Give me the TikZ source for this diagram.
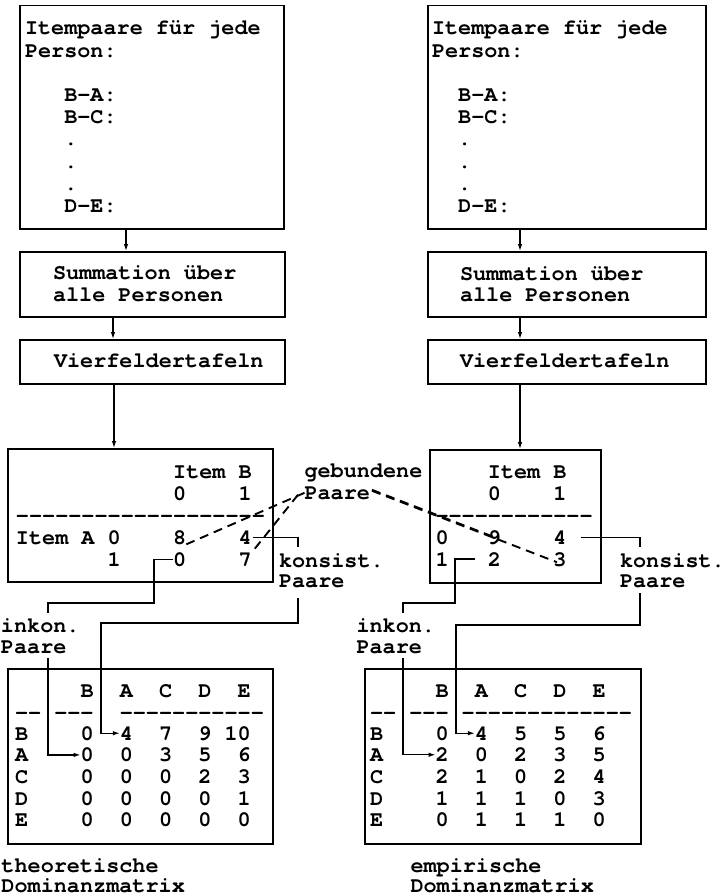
\documentclass[tikz,border=0pt]{standalone}
\usepackage{fontspec}
\newfontfamily\cour{TeX Gyre Cursor}
\usetikzlibrary{arrows.meta}
% one character cell of the typewriter font
\def\cw{13.1}
% a single hyphen in its own box (keeps runs of hyphens apart)
\newcommand\hy{\hbox{-}}
\begin{document}
\begin{tikzpicture}[x=1pt,y=-1pt,
  box/.style={draw,line width=1.5pt,anchor=north west,inner sep=0pt},
  txt/.style={font=\cour\bfseries\fontsize{21.83pt}{22pt}\selectfont,anchor=base west,inner sep=0pt,outer sep=0pt},
  num/.style={txt,anchor=base east},
  conn/.style={line width=1.2pt},
  arr/.style={conn,-{Latex[length=7pt,width=4.6pt]}},
  geb/.style={line width=1.9pt,dash pattern=on 9pt off 6pt}]
\useasboundingbox (0,0) rectangle (726,896);

% ---------- boxes ----------
\node[box,minimum width=264pt,minimum height=223pt] (b1L) at (19,5) {};
\node[box,minimum width=265pt,minimum height=65pt]  (b2L) at (19,251) {};
\node[box,minimum width=265pt,minimum height=44pt]  (b3L) at (19,339) {};
\node[box,minimum width=265pt,minimum height=133pt] (tabL) at (7,448) {};
\node[box,minimum width=265pt,minimum height=175pt] (matL) at (7,668) {};

\node[box,minimum width=278pt,minimum height=223pt] (b1R) at (427,5) {};
\node[box,minimum width=278pt,minimum height=65pt]  (b2R) at (427,251) {};
\node[box,minimum width=278pt,minimum height=44pt]  (b3R) at (427,339) {};
\node[box,minimum width=171pt,minimum height=133pt] (tabR) at (429,449) {};
\node[box,minimum width=276pt,minimum height=175pt] (matR) at (364,668) {};

% ---------- vertical flow arrows ----------
\coordinate (axL1) at (126,0);
\coordinate (axL2) at (113,0);
\coordinate (axL3) at (114,0);
\coordinate (axR) at (520,0);
\draw[arr] (b1L.south -| axL1) -- (b2L.north -| axL1);
\draw[arr] (b2L.south -| axL2) -- (b3L.north -| axL2);
\draw[arr] (b3L.south -| axL3) -- (tabL.north -| axL3);
\draw[arr] (b1R.south -| axR) -- (b2R.north -| axR);
\draw[arr] (b2R.south -| axR) -- (b3R.north -| axR);
\draw[arr] (b3R.south -| axR) -- (tabR.north -| axR);

% ---------- item pairs ----------
\node[txt] (l1a) at (25,35) {Itempaare für jede};
\node[txt] (l1b) at (25,57.2) {Person:};
\node[txt] (l1c) at ({25+3*\cw},101.6) {B-A:};
\node[txt] (l1d) at ({25+3*\cw},123.8) {B-C:};
\node[txt] (l1e) at ({25+3*\cw},146) {.};
\node[txt] (l1f) at ({25+3*\cw},168.2) {.};
\node[txt] (l1g) at ({25+3*\cw},190.4) {.};
\node[txt] (l1h) at ({25+3*\cw},212.6) {D-E:};

\node[txt] (r1a) at (432,35) {Itempaare für jede};
\node[txt] (r1b) at (432,57.2) {Person:};
\node[txt] (r1c) at ({432+2*\cw},101.6) {B-A:};
\node[txt] (r1d) at ({432+2*\cw},123.8) {B-C:};
\node[txt] (r1e) at ({432+2*\cw},146) {.};
\node[txt] (r1f) at ({432+2*\cw},168.2) {.};
\node[txt] (r1g) at ({432+2*\cw},190.4) {.};
\node[txt] (r1h) at ({432+2*\cw},212.6) {D-E:};

\node[txt] (l2a) at (53,279) {Summation über};
\node[txt] (l2b) at (53,301) {alle Personen};
\node[txt] (r2a) at (460,280) {Summation über};
\node[txt] (r2b) at (460,301) {alle Personen};

\node[txt] (l3) at (54,367) {Vierfeldertafeln};
\node[txt] (r3) at (460,367) {Vierfeldertafeln};

% ---------- fourfold table, theoretical ----------
\node[txt] (tLhd) at ({16+12*\cw},478) {Item B};
\node[txt] (tLc0) at ({16+12*\cw},500) {0};
\node[txt] (tLc1) at ({16+17*\cw},500) {1};
\node[txt] (tLrule) at (16,522) {\hy\hy\hy\hy\hy\hy\hy\hy\hy\hy\hy\hy\hy\hy\hy\hy\hy\hy\hy};
\node[txt] (tLrA) at (16,544) {Item A};
\node[txt] (tLr0) at ({16+7*\cw},544) {0};
\node[txt] (tL8) at ({16+12*\cw},544) {8};
\node[txt] (tL4) at ({16+17*\cw},544) {4};
\node[txt] (tLr1) at ({16+7*\cw},566) {1};
\node[txt] (tL0) at ({16+12*\cw},566) {0};
\node[txt] (tL7) at ({16+17*\cw},566) {7};

% ---------- fourfold table, empirical ----------
\node[txt] (tRhd) at ({435.5+4*\cw},478) {Item B};
\node[txt] (tRc0) at ({435.5+4*\cw},500) {0};
\node[txt] (tRc1) at ({435.5+9*\cw},500) {1};
\node[txt] (tRrule) at (435.5,522) {\hy\hy\hy\hy\hy\hy\hy\hy\hy\hy\hy\hy};
\node[txt] (tRr0) at (435.5,544) {0};
\node[txt] (tR9) at ({435.5+4*\cw},544) {9};
\node[txt] (tR4) at ({435.5+9*\cw},544) {4};
\node[txt] (tRr1) at (435.5,566) {1};
\node[txt] (tR2) at ({435.5+4*\cw},566) {2};
\node[txt] (tR3) at ({435.5+9*\cw},566) {3};

% ---------- labels ----------
\node[txt] (geb1) at (304.5,477.5) {gebundene};
\node[txt] (geb2) at (304.5,499) {Paare};
\node[txt] (kL1) at (279,567) {konsist.};
\node[txt] (kL2) at (279,587) {Paare};
\node[txt] (kR1) at (620,567) {konsist.};
\node[txt] (kR2) at (620,587) {Paare};
\node[txt] (iL1) at (1,632) {inkon.};
\node[txt] (iL2) at (1,653) {Paare};
\node[txt] (iR1) at (356.5,632) {inkon.};
\node[txt] (iR2) at (356.5,653) {Paare};
\node[txt] (capL1) at (1.5,872) {theoretische};
\node[txt] (capL2) at (1.5,892) {Dominanzmatrix};
\node[txt] (capR1) at (410.5,872) {empirische};
\node[txt] (capR2) at (410.5,892) {Dominanzmatrix};

% ---------- dominance matrices ----------
\foreach \col/\c in {B/5,A/8,C/11,D/14,E/17}{
  \node[txt] (mLh\col) at ({15+\c*\cw},697) {\col};
  \node[txt] (mRh\col) at ({370+\c*\cw},697) {\col};
}
\node[txt] (mLd1) at (15,719) {\hy\hy};
\node[txt] (mLd2) at ({15+3*\cw},719) {\hy\hy\hy};
\node[txt] (mLd3) at ({15+8*\cw},719) {\hy\hy\hy\hy\hy\hy\hy\hy\hy\hy\hy};
\node[txt] (mRd1) at (370,719) {\hy\hy};
\node[txt] (mRd2) at ({370+3*\cw},719) {\hy\hy\hy};
\node[txt] (mRd3) at ({370+7*\cw},719) {\hy\hy\hy\hy\hy\hy\hy\hy\hy\hy\hy\hy\hy};

\foreach \r/\yy/\va/\vb/\vc/\vd/\ve in
  {B/740/0/4/7/9/10, A/761.7/0/0/3/5/6, C/783.4/0/0/0/2/3,
   D/805.1/0/0/0/0/1, E/826.8/0/0/0/0/0}{
  \node[txt] (mL\r0) at (15,\yy) {\r};
  \node[num] (mL\r1) at ({15+6*\cw},\yy) {\va};
  \node[num] (mL\r2) at ({15+9*\cw},\yy) {\vb};
  \node[num] (mL\r3) at ({15+12*\cw},\yy) {\vc};
  \node[num] (mL\r4) at ({15+15*\cw},\yy) {\vd};
  \node[num] (mL\r5) at ({15+18*\cw},\yy) {\ve};
}
\foreach \r/\yy/\va/\vb/\vc/\vd/\ve in
  {B/740/0/4/5/5/6, A/761.7/2/0/2/3/5, C/783.4/2/1/0/2/4,
   D/805.1/1/1/1/0/3, E/826.8/0/1/1/1/0}{
  \node[txt] (mR\r0) at (370,\yy) {\r};
  \node[num] (mR\r1) at ({370+6*\cw},\yy) {\va};
  \node[num] (mR\r2) at ({370+9*\cw},\yy) {\vb};
  \node[num] (mR\r3) at ({370+12*\cw},\yy) {\vc};
  \node[num] (mR\r4) at ({370+15*\cw},\yy) {\vd};
  \node[num] (mR\r5) at ({370+18*\cw},\yy) {\ve};
}

% ---------- tied pairs (dashed) ----------
\draw[geb] (geb2.west) -- (tL8.south east);
\draw[geb] ([xshift=-6.5pt,yshift=-2pt]geb2.west) -- (tL7.north east);
\draw[geb] ([xshift=2pt,yshift=3pt]geb2.east) -- (tR9.center);
\draw[geb] ([xshift=2pt,yshift=2pt]geb2.east) -- ([xshift=-3pt,yshift=-3pt]tR3.center);

% ---------- consistent / inconsistent pairs ----------
\coordinate (kLtop) at (298,547);
\coordinate (kLbot) at (298,598);
\coordinate (kLa) at (101,623);
\coordinate (iLa) at (154,603);
\coordinate (iLtop) at (48,613);
\coordinate (iLbot) at (48,658);
\draw[conn] ([xshift=1.5pt]tL4.east) -| (kLtop);
\draw[arr] (kLbot) |- (kLa) |- (mLB2.west);
\draw[conn] (tL0.west) -| (iLa) -| (iLtop);
\draw[arr] (iLbot) |- (mLA1.west);

\coordinate (kRtop) at (640,547);
\coordinate (kRbot) at (640,593);
\coordinate (kRa) at (456,625);
\coordinate (iRa) at (455,603);
\coordinate (iRtop) at (403,613);
\coordinate (iRbot) at (403,658);
\draw[conn] ([xshift=14pt]tR4.east) -| (kRtop);
\draw[arr] (kRbot) |- (kRa) |- (mRB2.west);
\draw[conn] ([xshift=-12.5pt]tR2.west) -| (iRa) -| (iRtop);
\draw[arr] (iRbot) |- (mRA1.west);
\end{tikzpicture}
\end{document}
